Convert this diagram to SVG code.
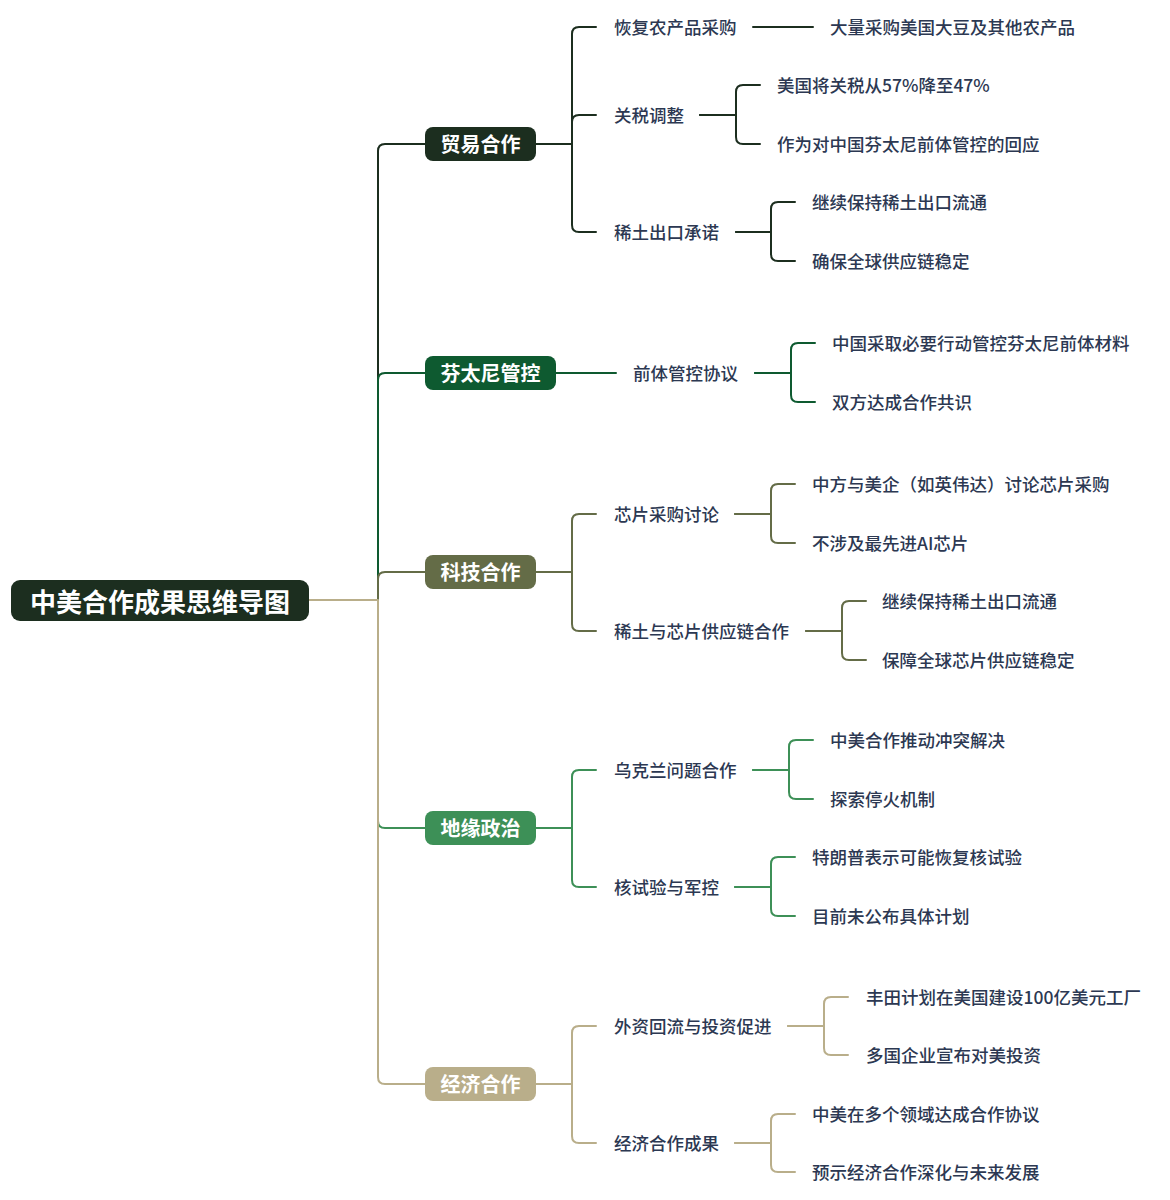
<svg xmlns="http://www.w3.org/2000/svg" width="1170" height="1200" viewBox="0 0 1170 1200">
<style>
.c{fill:none;stroke-width:2;stroke-linecap:round;stroke-linejoin:round}
.t{font-family:"Noto Sans CJK SC","Noto Sans",sans-serif;font-size:17.5px;font-weight:500;fill:#2c3852;dominant-baseline:central;transform:translateY(-1px)}
.b{font-family:"Noto Sans CJK SC","Noto Sans",sans-serif;font-size:20px;font-weight:bold;fill:#ffffff;dominant-baseline:central;text-anchor:middle}
.r{font-family:"Noto Sans CJK SC","Noto Sans",sans-serif;font-size:26px;font-weight:bold;fill:#ffffff;dominant-baseline:central;text-anchor:middle}
.k1{stroke:#1c2e1f}.k2{stroke:#0e5a30}.k3{stroke:#646c47}.k4{stroke:#3d9057}.k5{stroke:#b9ae8a}
</style>
<rect width="1170" height="1200" fill="#ffffff"/>
<g id="connectors">
<path class="c k1" d="M309 600H378V151Q378 144 385 144H425"/>
<path class="c k2" d="M309 600H378V380Q378 373 385 373H425"/>
<path class="c k3" d="M309 600H378V579Q378 572 385 572H425"/>
<path class="c k4" d="M309 600H378V821Q378 828 385 828H425"/>
<path class="c k5" d="M309 600H378V1077Q378 1084 385 1084H425"/>
<path class="c k1" d="M536 144H572V34Q572 27 579 27H596"/>
<path class="c k1" d="M536 144H572V122Q572 115 579 115H596"/>
<path class="c k1" d="M536 144H572V225Q572 232 579 232H596"/>
<path class="c k1" d="M753 27H813"/>
<path class="c k1" d="M700 115H736V92Q736 85 743 85H760"/>
<path class="c k1" d="M700 115H736V137Q736 144 743 144H760"/>
<path class="c k1" d="M736 232H771V209Q771 202 778 202H795"/>
<path class="c k1" d="M736 232H771V254Q771 261 778 261H795"/>
<path class="c k2" d="M556 373H616"/>
<path class="c k2" d="M755 373H791V350Q791 343 798 343H815"/>
<path class="c k2" d="M755 373H791V395Q791 402 798 402H815"/>
<path class="c k3" d="M536 572H572V521Q572 514 579 514H596"/>
<path class="c k3" d="M536 572H572V624Q572 631 579 631H596"/>
<path class="c k3" d="M735 514H771V491Q771 484 778 484H795"/>
<path class="c k3" d="M735 514H771V536Q771 543 778 543H795"/>
<path class="c k3" d="M806 631H842V608Q842 601 849 601H866"/>
<path class="c k3" d="M806 631H842V653Q842 660 849 660H866"/>
<path class="c k4" d="M536 828H572V777Q572 770 579 770H596"/>
<path class="c k4" d="M536 828H572V880Q572 887 579 887H596"/>
<path class="c k4" d="M753 770H789V747Q789 740 796 740H813"/>
<path class="c k4" d="M753 770H789V792Q789 799 796 799H813"/>
<path class="c k4" d="M735 887H771V864Q771 857 778 857H795"/>
<path class="c k4" d="M735 887H771V909Q771 916 778 916H795"/>
<path class="c k5" d="M536 1084H572V1033Q572 1026 579 1026H596"/>
<path class="c k5" d="M536 1084H572V1136Q572 1143 579 1143H596"/>
<path class="c k5" d="M788 1026H824V1004Q824 997 831 997H848"/>
<path class="c k5" d="M788 1026H824V1048Q824 1055 831 1055H848"/>
<path class="c k5" d="M735 1143H771V1121Q771 1114 778 1114H795"/>
<path class="c k5" d="M735 1143H771V1165Q771 1172 778 1172H795"/>
</g>
<g id="root"><rect x="11" y="580" width="298" height="41" rx="9" fill="#1c2e1f"/><text class="r" x="160" y="600">中美合作成果思维导图</text></g>
<g id="b1"><rect x="425" y="127" width="111" height="34" rx="8" fill="#1c2e1f"/><text class="b" x="480.5" y="143.5">贸易合作</text></g>
<g id="b2"><rect x="425" y="356" width="131" height="34" rx="8" fill="#0e5a30"/><text class="b" x="490.5" y="372.5">芬太尼管控</text></g>
<g id="b3"><rect x="425" y="555" width="111" height="34" rx="8" fill="#646c47"/><text class="b" x="480.5" y="571.5">科技合作</text></g>
<g id="b4"><rect x="425" y="811" width="111" height="34" rx="8" fill="#3d9057"/><text class="b" x="480.5" y="827.5">地缘政治</text></g>
<g id="b5"><rect x="425" y="1067" width="111" height="34" rx="8" fill="#b9ae8a"/><text class="b" x="480.5" y="1083.5">经济合作</text></g>
<g id="n1"><text class="t" x="614" y="27">恢复农产品采购</text></g>
<g id="n1a"><text class="t" x="830" y="27">大量采购美国大豆及其他农产品</text></g>
<g id="n2"><text class="t" x="614" y="115">关税调整</text></g>
<g id="n2a"><text class="t" x="777" y="85">美国将关税从57%降至47%</text></g>
<g id="n2b"><text class="t" x="777" y="144">作为对中国芬太尼前体管控的回应</text></g>
<g id="n3"><text class="t" x="614" y="232">稀土出口承诺</text></g>
<g id="n3a"><text class="t" x="812" y="202">继续保持稀土出口流通</text></g>
<g id="n3b"><text class="t" x="812" y="261">确保全球供应链稳定</text></g>
<g id="n4"><text class="t" x="633" y="373">前体管控协议</text></g>
<g id="n4a"><text class="t" x="832" y="343">中国采取必要行动管控芬太尼前体材料</text></g>
<g id="n4b"><text class="t" x="832" y="402">双方达成合作共识</text></g>
<g id="n5"><text class="t" x="614" y="514">芯片采购讨论</text></g>
<g id="n5a"><text class="t" x="812" y="484">中方与美企（如英伟达）讨论芯片采购</text></g>
<g id="n5b"><text class="t" x="812" y="543">不涉及最先进AI芯片</text></g>
<g id="n6"><text class="t" x="614" y="631">稀土与芯片供应链合作</text></g>
<g id="n6a"><text class="t" x="882" y="601">继续保持稀土出口流通</text></g>
<g id="n6b"><text class="t" x="882" y="660">保障全球芯片供应链稳定</text></g>
<g id="n7"><text class="t" x="614" y="770">乌克兰问题合作</text></g>
<g id="n7a"><text class="t" x="830" y="740">中美合作推动冲突解决</text></g>
<g id="n7b"><text class="t" x="830" y="799">探索停火机制</text></g>
<g id="n8"><text class="t" x="614" y="887">核试验与军控</text></g>
<g id="n8a"><text class="t" x="812" y="857">特朗普表示可能恢复核试验</text></g>
<g id="n8b"><text class="t" x="812" y="916">目前未公布具体计划</text></g>
<g id="n9"><text class="t" x="614" y="1026">外资回流与投资促进</text></g>
<g id="n9a"><text class="t" x="866" y="997">丰田计划在美国建设100亿美元工厂</text></g>
<g id="n9b"><text class="t" x="866" y="1055">多国企业宣布对美投资</text></g>
<g id="n10"><text class="t" x="614" y="1143">经济合作成果</text></g>
<g id="n10a"><text class="t" x="812" y="1114">中美在多个领域达成合作协议</text></g>
<g id="n10b"><text class="t" x="812" y="1172">预示经济合作深化与未来发展</text></g>
</svg>
